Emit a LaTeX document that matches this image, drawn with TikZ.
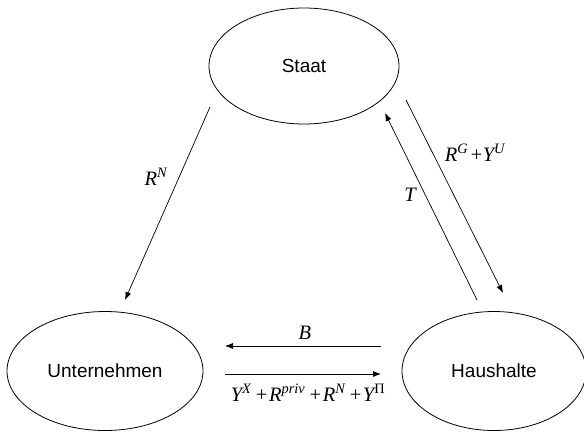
\documentclass[tikz,border=0pt]{standalone}
\usepackage{fontspec}
\setmainfont{Liberation Sans}
\newfontfamily\tms{Liberation Serif}
\usetikzlibrary{shapes.geometric,arrows.meta}
\newcommand\hoch[1]{\textsuperscript{#1}}
\newcommand\pl{\kern2.5pt{\upshape+}\kern0.5pt}
\newcommand\plw{\kern4.5pt{\upshape+}\kern1.5pt}
\begin{document}
\begin{tikzpicture}[x=1pt,y=-1pt,
  sector/.style={draw,ellipse,line width=0.8pt,font=\fontsize{19}{22}\selectfont},
  flow/.style={draw,line width=0.7pt,-{Latex[length=8pt,width=6pt]}},
  lbl/.style={font=\tms\itshape\fontsize{20.5}{24}\selectfont,inner sep=0pt}]
\useasboundingbox (0,0) rectangle (584,432);
\node[sector,minimum width=190pt,minimum height=116pt] (staat) at (304,66) {Staat};
\node[sector,minimum width=196pt,minimum height=119pt] (unt) at (105,371) {Unternehmen};
\node[sector,minimum width=184pt,minimum height=119pt] (hh) at (494,371) {Haushalte};
\coordinate (rn1) at (210,107); \coordinate (rn2) at (125,300);
\coordinate (t1) at (477,300); \coordinate (t2) at (385,113);
\coordinate (rg1) at (406,100); \coordinate (rg2) at (503,293);
\coordinate (b1) at (381,346); \coordinate (b2) at (225,346);
\coordinate (y1) at (225,374); \coordinate (y2) at (381,374);
\draw[flow] (rn1) -- (rn2);
\draw[flow] (t1) -- (t2);
\draw[flow] (rg1) -- (rg2);
\draw[flow] (b1) -- (b2);
\draw[flow] (y1) -- (y2);
\node[lbl] (lrn) at (156,177) {R\hoch{N}};
\node[lbl] (lt) at (410,195) {T};
\node[lbl] (lrg) at (475,153) {R\hoch{G}\pl Y\hoch{U}};
\node[lbl] (lb) at (305,333) {B};
\node[lbl] (ly) at (308,393) {Y\hoch{X}\plw R\hoch{priv}\plw R\hoch{N}\plw Y\hoch{\upshape Π}};
\end{tikzpicture}
\end{document}
